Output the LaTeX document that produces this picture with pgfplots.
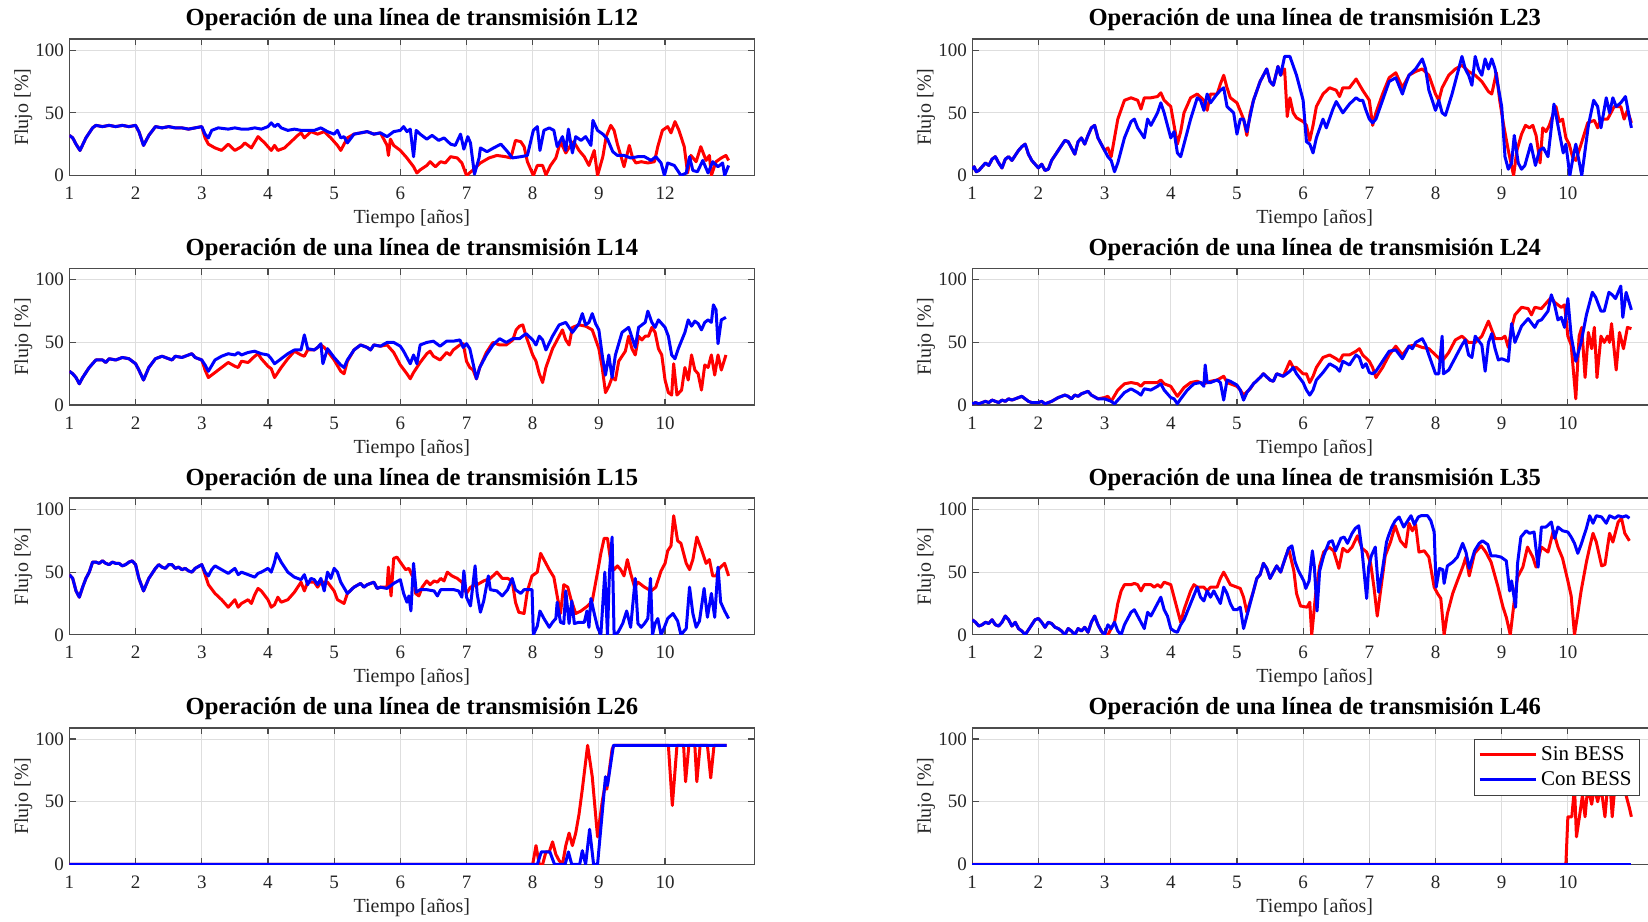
\documentclass[border=0pt]{standalone}
\usepackage{fontspec}
\setmainfont{Liberation Serif}
\usepackage{pgfplots}
\pgfplotsset{compat=1.18}
\definecolor{sinb}{rgb}{1,0,0}
\definecolor{conb}{rgb}{0,0,1}
\pgfplotsset{
  panel/.style={
    scale only axis, width=342.5pt, height=68.3pt,
    anchor=south west,
    xmin=1, xmax=11.35, ymin=0, ymax=109,
    xtick={1,2,3,4,5,6,7,8,9,10}, ytick={0,50,100},
    /pgf/number format/assume math mode=true,
    grid=major, major grid style={black!13, line width=0.45pt},
    tick align=inside, major tick length=3.2pt,
    axis line style={black!70, line width=0.7pt},
    tick style={black!70, line width=0.6pt},
    ticklabel style={font=\fontsize{9.5}{10}\selectfont, text=black!85},
    xticklabel style={anchor=base, yshift=-12pt},
    yticklabel style={anchor=east, inner sep=0pt, xshift=-2.5pt},
    xlabel={Tiempo [años]}, ylabel={Flujo [\%]},
    label style={font=\fontsize{10}{12}\selectfont, text=black!85},
    xlabel style={at={(axis description cs:0.5,-0.351)}, anchor=base},
    ylabel style={at={(axis description cs:-0.0672,0.5)}, anchor=center},
    every axis title shift=0pt,
    title style={at={(axis description cs:0.5,1)}, anchor=base, yshift=6.5pt, font=\fontsize{12.3}{14}\selectfont\bfseries},
    every axis plot/.append style={line width=1.5pt, line join=round},
    clip=true,
  }
}
\begin{document}
\begin{tikzpicture}
% ---------------- L12 ----------------
\begin{axis}[panel, at={(34.7pt,372.75pt)}, title={Operación de una línea de transmisión L12},
  xticklabels={1,2,3,4,5,6,7,8,9,12}]
\addplot[sinb] coordinates {(1,32)(1.05,30)(1.1,25)(1.16,20)(1.25,30)(1.35,38)(1.4,40)(1.5,39)(1.6,40)(1.7,39)(1.8,40)(1.9,39)(2.0,40)(2.05,35)(2.12,24)(2.2,32)(2.3,39)(2.4,38)(2.5,39)(2.6,38)(2.7,38)(2.8,37)(2.9,38)(3.0,39)
(3.05,30)(3.1,25)(3.2,22)(3.3,20)(3.4,25)(3.5,20)(3.6,23)(3.65,26)(3.75,22)(3.85,31)(3.95,26)(4.05,20)(4.1,24)(4.15,20)(4.25,22)(4.35,27)(4.45,32)(4.5,34)(4.55,30)(4.65,35)(4.75,33)(4.85,35)(4.95,30)(5.05,24)(5.1,20)(5.15,25)(5.2,30)(5.3,33)(5.4,34)(5.5,35)(5.6,33)(5.7,34)(5.8,24)(5.82,16)(5.85,29)(5.9,24)(6.0,20)(6.1,14)(6.2,7)(6.25,2)(6.3,4.5)(6.4,8)(6.45,11)(6.53,7)(6.61,11)(6.68,10)(6.76,15)(6.86,14)(6.93,10)(7.0,0)(7.09,4)(7.21,10)(7.34,14)(7.46,16)(7.59,15)(7.67,14)(7.74,28)(7.82,27)(7.87,23)(7.92,11)(8.01,0)(8.07,8)(8.15,8)(8.2,0.5)(8.27,8)(8.35,14)(8.42,27)(8.5,18)(8.57,24)(8.62,27)(8.7,20)(8.78,15)(8.85,8)(8.93,20)(8.98,0)(9.06,15)(9.11,31)(9.18,40)(9.23,36)(9.28,25)(9.33,16)(9.38,7)(9.46,24)(9.51,14)(9.56,10)(9.64,11)(9.74,10)(9.84,11)(9.89,23)(9.96,36)(10.04,39)(10.09,34)(10.15,43)(10.21,36)(10.29,23)(10.34,2)(10.39,16)(10.47,11)(10.54,23)(10.62,12)(10.67,16)(10.7,0)(10.77,11)(10.85,14)(10.92,16)(10.96,12)};
\addplot[conb] coordinates {(1,32)(1.05,30)(1.1,25)(1.16,20)(1.25,30)(1.35,38)(1.4,40)(1.5,39)(1.6,40)(1.7,39)(1.8,40)(1.9,39)(2.0,40)(2.05,35)(2.12,24)(2.2,32)(2.3,39)(2.4,38)(2.5,39)(2.6,38)(2.7,38)(2.8,37)(2.9,38)(3.0,39)
(3.05,33)(3.1,30)(3.15,36)(3.25,38)(3.4,37)(3.5,38)(3.6,37)(3.7,37)(3.8,38)(3.9,37)(4.0,39)(4.05,42)(4.1,39)(4.15,41)(4.2,38)(4.3,36)(4.4,37)(4.5,36)(4.6,36)(4.7,36)(4.8,38)(4.9,35)(5.0,33)(5.05,36)(5.1,30)(5.15,31)(5.2,26)(5.3,33)(5.4,34)(5.5,35)(5.6,33)(5.7,34)(5.8,31)(5.9,35)(6.0,36)(6.05,39)(6.1,35)(6.15,37)(6.2,15)(6.24,36)(6.3,33)(6.4,29)(6.48,32)(6.58,28)(6.66,30)(6.76,25)(6.83,24)(6.91,33)(6.96,21)(7.02,31)(7.06,26)(7.12,1)(7.19,14)(7.21,22)(7.31,19)(7.41,22)(7.52,25)(7.62,19)(7.69,14)(7.82,15)(7.92,16)(8.01,36)(8.07,39)(8.11,20)(8.17,36)(8.25,38)(8.32,36)(8.37,23)(8.45,31)(8.5,20)(8.54,37)(8.6,18)(8.65,31)(8.73,28)(8.8,31)(8.88,24)(8.91,44)(8.98,36)(9.06,33)(9.13,29)(9.21,19)(9.28,16)(9.38,16)(9.48,14)(9.59,15)(9.69,15)(9.79,12)(9.86,15)(9.94,10)(9.99,0)(10.04,10)(10.14,8)(10.24,0)(10.32,2)(10.37,15)(10.42,4)(10.49,3)(10.57,12)(10.65,2)(10.72,11)(10.8,7)(10.87,10)(10.9,0)(10.96,8)};
\end{axis}
% ---------------- L14 ----------------
\begin{axis}[panel, at={(34.7pt,257.95pt)}, title={Operación de una línea de transmisión L14}]
\addplot[sinb] coordinates {(1,27)(1.05,25)(1.1,22)(1.15,17)(1.2,22)(1.3,30)(1.4,36)(1.5,36)(1.55,34)(1.6,37)(1.7,36)(1.8,38)(1.9,37)(2.0,33)(2.05,28)(2.12,20)(2.2,30)(2.3,37)(2.4,39)(2.5,37)(2.55,36)(2.6,39)(2.7,38)(2.8,40)(2.85,41)(2.9,38)(3.0,36)
(3.05,28)(3.1,22)(3.2,26)(3.3,30)(3.4,34)(3.5,31)(3.55,30)(3.6,35)(3.7,34)(3.8,39)(3.85,41)(3.9,37)(4.0,31)(4.05,29)(4.1,22)(4.2,30)(4.3,37)(4.4,43)(4.5,40)(4.55,39)(4.6,44)(4.7,44)(4.8,48)(4.85,46)(4.9,43)(5.0,36)(5.1,27)(5.15,25)(5.2,35)(5.3,44)(5.4,48)(5.5,46)(5.55,44)(5.6,48)(5.7,47)(5.8,48)(5.85,45)(5.9,42)(6.0,32)(6.1,25)(6.15,21)(6.2,26)(6.3,34)(6.4,41)(6.45,43)(6.5,39)(6.6,36)(6.7,42)(6.75,40)(6.8,44)(6.9,48)(6.95,49)(7.0,35)(7.05,30)(7.1,28)(7.15,21)(7.2,30)(7.3,42)(7.4,50)(7.5,48)(7.6,48)(7.7,52)(7.75,60)(7.8,63)(7.85,64)(7.9,55)(8.0,40)(8.05,35)(8.1,25)(8.15,18)(8.2,30)(8.3,45)(8.4,55)(8.45,60)(8.5,52)(8.55,48)(8.6,62)(8.7,64)(8.8,63)(8.9,60)(9.0,45)(9.05,30)(9.1,10)(9.15,15)(9.2,22)(9.25,20)(9.3,35)(9.4,43)(9.45,55)(9.5,45)(9.55,40)(9.6,55)(9.65,52)(9.7,55)(9.75,55)(9.8,62)(9.85,58)(9.9,45)(9.95,40)(10.0,20)(10.05,10)(10.1,8)(10.13,33)(10.18,8)(10.25,12)(10.3,30)(10.35,20)(10.4,40)(10.45,28)(10.5,25)(10.55,12)(10.6,32)(10.65,30)(10.7,40)(10.75,24)(10.8,40)(10.85,28)(10.92,40)};
\addplot[conb] coordinates {(1,27)(1.05,25)(1.1,22)(1.15,17)(1.2,22)(1.3,30)(1.4,36)(1.5,36)(1.55,34)(1.6,37)(1.7,36)(1.8,38)(1.9,37)(2.0,33)(2.05,28)(2.12,20)(2.2,30)(2.3,37)(2.4,39)(2.5,37)(2.55,36)(2.6,39)(2.7,38)(2.8,40)(2.85,41)(2.9,38)(3.0,36)
(3.05,32)(3.1,27)(3.2,36)(3.3,39)(3.4,41)(3.5,40)(3.55,42)(3.6,40)(3.7,42)(3.8,43)(3.9,41)(4.0,40)(4.05,37)(4.1,33)(4.2,37)(4.3,41)(4.4,44)(4.5,44)(4.55,56)(4.6,45)(4.7,44)(4.75,46)(4.8,49)(4.83,33)(4.9,45)(5.0,38)(5.1,32)(5.15,30)(5.2,36)(5.3,44)(5.4,48)(5.5,46)(5.55,44)(5.6,48)(5.7,47)(5.8,50)(5.9,50)(6.0,47)(6.05,43)(6.1,38)(6.15,33)(6.2,40)(6.25,33)(6.3,48)(6.4,50)(6.5,51)(6.6,47)(6.7,51)(6.8,51)(6.9,52)(6.95,46)(7.0,49)(7.05,45)(7.1,33)(7.15,21)(7.2,30)(7.3,40)(7.4,48)(7.5,53)(7.6,50)(7.7,53)(7.8,53)(7.9,57)(8.0,52)(8.05,48)(8.1,55)(8.15,52)(8.2,44)(8.3,55)(8.4,64)(8.5,66)(8.6,58)(8.7,65)(8.75,73)(8.8,64)(8.85,66)(8.9,73)(8.95,65)(9.0,60)(9.05,40)(9.1,24)(9.15,40)(9.2,22)(9.25,40)(9.35,58)(9.45,62)(9.55,46)(9.6,62)(9.7,66)(9.74,75)(9.8,66)(9.85,62)(9.9,68)(10.0,62)(10.05,55)(10.1,40)(10.15,37)(10.2,45)(10.3,58)(10.35,68)(10.4,63)(10.45,67)(10.5,65)(10.55,60)(10.6,66)(10.65,68)(10.7,66)(10.73,80)(10.77,76)(10.8,49)(10.85,68)(10.92,70)};
\end{axis}
% ---------------- L15 ----------------
\begin{axis}[panel, at={(34.7pt,143.1pt)}, title={Operación de una línea de transmisión L15}]
\addplot[sinb] coordinates {(1,48)(1.05,45)(1.1,35)(1.15,30)(1.2,38)(1.25,45)(1.3,50)(1.35,58)(1.4,58)(1.45,57)(1.5,59)(1.55,57)(1.6,56)(1.65,58)(1.7,57)(1.75,57)(1.8,55)(1.85,56)(1.9,58)(1.95,59)(2.0,56)(2.05,45)(2.12,35)(2.2,45)(2.3,53)(2.35,56)(2.4,54)(2.45,53)(2.5,56)(2.55,56)(2.6,53)(2.65,54)(2.7,52)(2.75,53)(2.8,51)(2.85,50)(2.9,53)(3.0,56)
(3.05,48)(3.1,40)(3.2,33)(3.3,28)(3.4,22)(3.5,28)(3.55,22)(3.6,25)(3.7,28)(3.75,25)(3.8,32)(3.85,37)(3.9,35)(4.0,28)(4.05,22)(4.1,24)(4.15,30)(4.2,26)(4.3,28)(4.4,34)(4.5,42)(4.55,35)(4.6,42)(4.7,42)(4.75,38)(4.8,42)(4.9,42)(5.0,35)(5.05,28)(5.15,25)(5.2,33)(5.3,38)(5.4,41)(5.45,38)(5.5,40)(5.6,42)(5.65,37)(5.7,38)(5.8,38)(5.82,54)(5.86,31)(5.9,61)(5.95,62)(6.0,58)(6.08,52)(6.13,53)(6.18,47)(6.2,51)(6.23,33)(6.28,31)(6.33,38)(6.4,43)(6.45,40)(6.51,43)(6.56,42)(6.61,45)(6.66,43)(6.71,50)(6.78,47)(6.86,45)(6.93,42)(7.0,33)(7.06,38)(7.16,40)(7.26,43)(7.36,45)(7.46,50)(7.54,45)(7.62,45)(7.69,43)(7.74,26)(7.79,18)(7.87,17)(7.92,35)(7.99,47)(8.07,50)(8.12,65)(8.2,57)(8.25,52)(8.32,46)(8.37,31)(8.42,17)(8.47,40)(8.53,38)(8.58,28)(8.65,17)(8.73,19)(8.83,23)(8.9,27)(8.98,50)(9.03,65)(9.08,77)(9.13,77)(9.18,58)(9.23,52)(9.28,55)(9.33,52)(9.38,47)(9.43,60)(9.48,49)(9.54,38)(9.59,42)(9.69,38)(9.79,35)(9.86,38)(9.94,51)(10.0,57)(10.04,67)(10.09,71)(10.13,95)(10.19,75)(10.24,73)(10.32,57)(10.37,52)(10.42,60)(10.48,78)(10.55,68)(10.62,57)(10.67,60)(10.72,47)(10.77,47)(10.82,53)(10.9,57)(10.96,47)};
\addplot[conb] coordinates {(1,48)(1.05,45)(1.1,35)(1.15,30)(1.2,38)(1.25,45)(1.3,50)(1.35,58)(1.4,58)(1.45,57)(1.5,59)(1.55,57)(1.6,56)(1.65,58)(1.7,57)(1.75,57)(1.8,55)(1.85,56)(1.9,58)(1.95,59)(2.0,56)(2.05,45)(2.12,35)(2.2,45)(2.3,53)(2.35,56)(2.4,54)(2.45,53)(2.5,56)(2.55,56)(2.6,53)(2.65,54)(2.7,52)(2.75,53)(2.8,51)(2.85,50)(2.9,53)(3.0,56)
(3.05,50)(3.1,47)(3.15,52)(3.2,55)(3.3,52)(3.4,49)(3.5,53)(3.55,48)(3.6,50)(3.7,48)(3.8,46)(3.85,49)(3.9,50)(4.0,53)(4.05,50)(4.1,58)(4.13,65)(4.2,58)(4.3,50)(4.4,46)(4.5,44)(4.55,48)(4.6,40)(4.65,45)(4.7,44)(4.75,40)(4.8,45)(4.85,35)(4.9,50)(4.95,45)(5.0,53)(5.05,50)(5.1,42)(5.2,33)(5.3,38)(5.4,41)(5.45,38)(5.5,40)(5.6,42)(5.65,37)(5.7,38)(5.8,37)(5.9,41)(6.0,44)(6.05,33)(6.1,26)(6.13,31)(6.16,19)(6.2,57)(6.24,34)(6.3,36)(6.4,36)(6.51,35)(6.56,31)(6.61,36)(6.71,36)(6.81,36)(6.88,35)(6.93,30)(6.96,51)(7.0,30)(7.06,23)(7.13,55)(7.16,33)(7.21,18)(7.26,27)(7.33,47)(7.36,36)(7.46,35)(7.54,31)(7.62,36)(7.69,45)(7.74,36)(7.82,33)(7.87,36)(7.99,36)(8.01,0)(8.07,7)(8.11,19)(8.17,13)(8.25,6)(8.3,10)(8.35,13)(8.37,26)(8.42,10)(8.47,9)(8.5,35)(8.55,9)(8.59,27)(8.63,9)(8.7,10)(8.78,10)(8.82,19)(8.85,6)(8.88,29)(8.93,17)(8.98,6)(9.03,0)(9.09,50)(9.13,0)(9.16,50)(9.2,78)(9.23,0)(9.29,2)(9.36,9)(9.42,19)(9.48,6)(9.55,45)(9.59,9)(9.64,6)(9.69,9)(9.74,13)(9.78,45)(9.81,0)(9.85,9)(9.89,13)(9.94,0)(9.99,6)(10.04,13)(10.12,17)(10.19,11)(10.24,0)(10.32,5)(10.37,38)(10.42,17)(10.47,6)(10.52,11)(10.59,37)(10.64,14)(10.7,33)(10.75,14)(10.8,54)(10.84,26)(10.9,19)(10.96,13)};
\end{axis}
% ---------------- L26 ----------------
\begin{axis}[panel, at={(34.7pt,28.3pt)}, title={Operación de una línea de transmisión L26}]
\addplot[sinb] coordinates {(1,0)(8.0,0)(8.05,15)(8.1,0)(8.15,0)(8.2,10)(8.25,10)(8.3,18)(8.35,8)(8.4,3)(8.45,0)(8.5,15)(8.55,25)(8.6,15)(8.65,25)(8.7,40)(8.75,60)(8.83,95)(8.9,70)(8.98,22)(9.05,50)(9.1,65)(9.12,60)(9.2,92)(9.23,95)(10.05,95)(10.11,47)(10.18,95)(10.28,95)(10.31,66)(10.36,95)(10.45,95)(10.48,66)(10.53,95)(10.64,95)(10.69,69)(10.74,95)(10.93,95)};
\addplot[conb] coordinates {(1,0)(8.07,0)(8.13,10)(8.26,10)(8.33,0)(8.49,0)(8.54,10)(8.59,0)(8.71,0)(8.75,11)(8.8,0)(8.86,28)(8.92,0)(8.98,0)(9.1,70)(9.13,63)(9.22,95)(10.93,95)};
\end{axis}
% ---------------- L23 ----------------
\begin{axis}[panel, at={(486.1pt,372.75pt)}, title={Operación de una línea de transmisión L23}]
\addplot[sinb] coordinates {(1,5)(1.03,7)(1.06,3)(1.1,4)(1.15,7)(1.2,10)(1.25,8)(1.3,13)(1.35,15)(1.4,10)(1.45,6)(1.5,13)(1.55,15)(1.6,12)(1.65,16)(1.7,20)(1.75,23)(1.8,25)(1.85,17)(1.9,12)(2.0,6)(2.05,9)(2.1,4)(2.15,5)(2.2,12)(2.3,20)(2.4,28)(2.45,27)(2.5,22)(2.55,17)(2.6,27)(2.65,30)(2.7,25)(2.75,32)(2.8,38)(2.85,40)(2.9,30)(2.95,25)(3.0,20)
(3.05,22)(3.1,15)(3.15,30)(3.2,45)(3.3,60)(3.4,62)(3.5,60)(3.55,53)(3.6,62)(3.7,62)(3.8,63)(3.85,66)(3.9,60)(4.0,55)(4.05,40)(4.1,25)(4.15,35)(4.2,50)(4.3,62)(4.4,65)(4.5,60)(4.55,52)(4.6,65)(4.7,65)(4.75,73)(4.8,80)(4.85,70)(4.9,62)(5.0,58)(5.1,45)(5.15,32)(5.2,50)(5.25,60)(5.35,75)(5.45,85)(5.5,75)(5.55,72)(5.62,87)(5.66,80)(5.72,85)(5.76,47)(5.8,62)(5.85,50)(5.9,46)(6.0,43)(6.05,40)(6.1,28)(6.15,40)(6.2,55)(6.3,65)(6.4,70)(6.5,68)(6.55,63)(6.6,70)(6.7,70)(6.8,77)(6.9,68)(7.0,60)(7.05,40)(7.1,50)(7.2,65)(7.3,78)(7.4,82)(7.5,70)(7.6,80)(7.7,83)(7.8,85)(7.9,80)(8.0,65)(8.05,60)(8.1,70)(8.2,80)(8.3,85)(8.4,88)(8.5,83)(8.6,80)(8.7,75)(8.8,67)(8.85,65)(8.92,82)(8.97,60)(9.03,40)(9.1,20)(9.18,0)(9.23,20)(9.3,33)(9.36,40)(9.42,38)(9.47,40)(9.52,32)(9.58,10)(9.62,38)(9.67,35)(9.72,40)(9.77,48)(9.82,55)(9.87,43)(9.92,45)(9.97,30)(10.02,25)(10.07,15)(10.12,12)(10.2,25)(10.3,42)(10.4,44)(10.45,38)(10.5,45)(10.6,45)(10.7,55)(10.8,55)(10.85,45)(10.9,52)(10.96,42)};
\addplot[conb] coordinates {(1,5)(1.03,7)(1.06,3)(1.1,4)(1.15,7)(1.2,10)(1.25,8)(1.3,13)(1.35,15)(1.4,10)(1.45,6)(1.5,13)(1.55,15)(1.6,12)(1.65,16)(1.7,20)(1.75,23)(1.8,25)(1.85,17)(1.9,12)(2.0,6)(2.05,9)(2.1,4)(2.15,5)(2.2,12)(2.3,20)(2.4,28)(2.45,27)(2.5,22)(2.55,17)(2.6,27)(2.65,30)(2.7,25)(2.75,32)(2.8,38)(2.85,40)(2.9,30)(2.95,25)(3.0,20)
(3.05,15)(3.1,12)(3.15,3)(3.2,10)(3.3,30)(3.4,43)(3.45,45)(3.5,38)(3.6,30)(3.65,45)(3.7,40)(3.8,50)(3.85,58)(3.9,50)(3.95,40)(4.0,30)(4.05,35)(4.1,18)(4.15,15)(4.2,25)(4.3,45)(4.4,62)(4.45,60)(4.5,52)(4.55,65)(4.6,58)(4.7,65)(4.75,68)(4.8,70)(4.85,55)(4.95,50)(5.0,33)(5.05,45)(5.1,45)(5.15,35)(5.25,60)(5.35,75)(5.45,85)(5.5,75)(5.55,72)(5.62,87)(5.66,80)(5.72,95)(5.8,95)(5.9,80)(6.0,60)(6.05,27)(6.1,25)(6.15,18)(6.2,30)(6.3,45)(6.35,38)(6.45,53)(6.5,59)(6.6,50)(6.7,57)(6.8,62)(6.85,60)(6.9,60)(6.95,52)(7.0,45)(7.05,42)(7.1,45)(7.2,60)(7.3,75)(7.4,78)(7.5,65)(7.55,73)(7.6,80)(7.7,85)(7.8,93)(7.85,85)(7.9,68)(8.0,52)(8.05,60)(8.1,50)(8.15,48)(8.25,65)(8.35,85)(8.4,95)(8.45,85)(8.5,80)(8.55,72)(8.6,95)(8.65,85)(8.7,80)(8.75,93)(8.8,85)(8.85,93)(8.9,85)(8.95,70)(9.0,55)(9.05,15)(9.1,5)(9.15,10)(9.19,32)(9.25,10)(9.3,5)(9.35,8)(9.44,25)(9.51,8)(9.57,20)(9.63,22)(9.7,15)(9.79,57)(9.85,40)(9.93,18)(9.97,25)(10.03,0)(10.08,15)(10.12,25)(10.21,0)(10.31,40)(10.39,60)(10.45,55)(10.5,38)(10.58,62)(10.63,50)(10.68,62)(10.73,55)(10.8,58)(10.87,63)(10.96,38)};
\end{axis}
% ---------------- L24 ----------------
\begin{axis}[panel, at={(486.1pt,257.95pt)}, title={Operación de una línea de transmisión L24}]
\addplot[sinb] coordinates {(1,1)(1.05,2)(1.1,1)(1.15,2)(1.2,3)(1.25,2)(1.3,4)(1.35,3)(1.4,2)(1.45,4)(1.5,3)(1.55,5)(1.6,4)(1.65,5)(1.7,6)(1.75,7)(1.8,5)(1.85,3)(1.9,2)(2.0,2)(2.05,3)(2.1,1)(2.2,3)(2.3,6)(2.4,8)(2.45,7)(2.5,5)(2.55,8)(2.6,7)(2.65,9)(2.7,10)(2.75,11)(2.8,8)(2.9,5)(3.0,6)
(3.05,7)(3.1,3)(3.2,12)(3.3,17)(3.4,18)(3.5,17)(3.55,15)(3.6,18)(3.7,18)(3.8,18)(3.85,20)(3.9,17)(4.0,15)(4.1,7)(4.2,14)(4.3,18)(4.4,19)(4.5,17)(4.6,19)(4.7,20)(4.8,23)(4.85,18)(4.9,17)(5.0,15)(5.05,12)(5.1,8)(5.2,13)(5.25,17)(5.35,22)(5.4,25)(5.5,20)(5.55,19)(5.6,25)(5.7,23)(5.8,35)(5.85,30)(5.9,30)(6.0,25)(6.05,25)(6.1,18)(6.15,23)(6.2,30)(6.3,38)(6.4,40)(6.5,37)(6.55,35)(6.6,40)(6.7,40)(6.8,43)(6.85,45)(6.9,40)(7.0,35)(7.05,30)(7.1,22)(7.2,30)(7.3,40)(7.4,47)(7.5,40)(7.6,47)(7.7,48)(7.8,46)(7.9,45)(8.0,40)(8.1,35)(8.2,42)(8.3,52)(8.4,55)(8.5,50)(8.6,50)(8.7,55)(8.8,67)(8.85,60)(8.9,53)(9.0,53)(9.05,55)(9.1,46)(9.15,62)(9.2,72)(9.3,78)(9.4,77)(9.45,72)(9.5,78)(9.6,77)(9.7,83)(9.75,86)(9.8,82)(9.85,80)(9.9,78)(9.95,80)(10.0,55)(10.05,48)(10.12,5)(10.17,55)(10.21,62)(10.26,22)(10.31,58)(10.36,45)(10.4,62)(10.44,22)(10.5,55)(10.55,50)(10.6,55)(10.63,50)(10.66,65)(10.73,28)(10.78,58)(10.84,45)(10.9,62)(10.96,61)};
\addplot[conb] coordinates {(1,1)(1.05,2)(1.1,1)(1.15,2)(1.2,3)(1.25,2)(1.3,4)(1.35,3)(1.4,2)(1.45,4)(1.5,3)(1.55,5)(1.6,4)(1.65,5)(1.7,6)(1.75,7)(1.8,5)(1.85,3)(1.9,2)(2.0,2)(2.05,3)(2.1,1)(2.2,3)(2.3,6)(2.4,8)(2.45,7)(2.5,5)(2.55,8)(2.6,7)(2.65,9)(2.7,10)(2.75,11)(2.8,8)(2.9,5)(3.0,5)
(3.05,4)(3.1,3)(3.15,1)(3.2,4)(3.3,10)(3.4,13)(3.5,10)(3.55,8)(3.6,13)(3.7,12)(3.8,15)(3.85,17)(3.9,12)(4.0,6)(4.05,5)(4.1,1)(4.15,5)(4.25,12)(4.35,17)(4.45,18)(4.5,15)(4.52,32)(4.55,18)(4.6,18)(4.7,20)(4.75,18)(4.8,4)(4.85,20)(4.9,19)(5.0,16)(5.05,12)(5.1,4)(5.15,10)(5.25,17)(5.35,22)(5.4,25)(5.5,20)(5.55,19)(5.6,25)(5.7,23)(5.8,27)(5.85,30)(5.9,25)(6.0,18)(6.05,12)(6.1,8)(6.15,12)(6.2,20)(6.3,26)(6.4,33)(6.5,30)(6.55,27)(6.6,35)(6.7,32)(6.8,40)(6.85,38)(6.9,30)(6.95,33)(7.0,26)(7.05,25)(7.1,27)(7.2,35)(7.3,43)(7.4,44)(7.5,37)(7.6,47)(7.65,45)(7.7,50)(7.8,53)(7.85,48)(7.9,40)(8.0,25)(8.05,25)(8.1,55)(8.12,25)(8.2,28)(8.3,38)(8.4,48)(8.45,52)(8.5,40)(8.55,38)(8.6,55)(8.7,48)(8.75,27)(8.8,50)(8.85,57)(8.9,45)(8.95,36)(9.0,37)(9.1,35)(9.15,65)(9.2,50)(9.3,63)(9.4,69)(9.5,62)(9.55,67)(9.6,68)(9.7,75)(9.75,88)(9.8,80)(9.85,68)(9.9,70)(9.95,62)(10.0,85)(10.05,55)(10.12,35)(10.2,50)(10.28,72)(10.37,90)(10.42,86)(10.5,75)(10.55,75)(10.62,90)(10.67,88)(10.72,85)(10.76,90)(10.8,95)(10.83,70)(10.88,90)(10.96,76)};
\end{axis}
% ---------------- L35 ----------------
\begin{axis}[panel, at={(486.1pt,143.1pt)}, title={Operación de una línea de transmisión L35}]
\addplot[sinb] coordinates {(1,12)(1.05,10)(1.1,7)(1.15,8)(1.2,10)(1.25,9)(1.3,12)(1.35,8)(1.4,7)(1.45,10)(1.5,15)(1.55,12)(1.6,7)(1.65,10)(1.7,5)(1.75,3)(1.8,0)(1.85,4)(1.9,8)(1.95,12)(2.0,13)(2.05,10)(2.1,6)(2.15,10)(2.2,9)(2.25,6)(2.3,5)(2.35,3)(2.4,0)(2.45,5)(2.5,3)(2.55,0)(2.6,5)(2.65,3)(2.7,6)(2.75,2)(2.8,10)(2.85,15)(2.9,8)(2.95,3)(3.0,0)
(3.05,0)(3.1,5)(3.15,10)(3.2,25)(3.25,35)(3.3,40)(3.4,40)(3.45,41)(3.5,40)(3.55,35)(3.6,40)(3.7,40)(3.75,38)(3.8,40)(3.85,38)(3.9,42)(4.0,40)(4.05,30)(4.1,20)(4.15,10)(4.2,20)(4.3,35)(4.35,40)(4.4,38)(4.5,38)(4.55,35)(4.6,38)(4.7,38)(4.75,45)(4.8,50)(4.85,45)(4.9,40)(5.0,38)(5.05,37)(5.1,30)(5.15,18)(5.25,35)(5.3,45)(5.35,48)(5.4,57)(5.45,53)(5.5,45)(5.6,55)(5.66,50)(5.71,58)(5.78,69)(5.86,51)(5.9,33)(5.96,23)(6.06,22)(6.1,26)(6.13,0)(6.19,33)(6.25,55)(6.31,66)(6.39,70)(6.46,67)(6.54,53)(6.6,69)(6.67,66)(6.74,70)(6.82,79)(6.89,69)(6.96,66)(7.02,57)(7.07,38)(7.12,15)(7.17,35)(7.24,63)(7.32,74)(7.39,87)(7.47,75)(7.55,70)(7.6,89)(7.65,83)(7.7,88)(7.75,66)(7.83,67)(7.9,62)(7.98,38)(8.03,33)(8.08,29)(8.13,0)(8.18,17)(8.26,33)(8.33,43)(8.41,54)(8.46,62)(8.51,47)(8.59,65)(8.69,71)(8.76,66)(8.84,58)(8.94,39)(9.02,22)(9.07,14)(9.13,0)(9.19,27)(9.24,46)(9.32,54)(9.39,70)(9.47,62)(9.52,54)(9.6,70)(9.7,66)(9.78,83)(9.85,70)(9.92,61)(10.0,43)(10.05,31)(10.1,0)(10.15,17)(10.2,35)(10.28,58)(10.33,70)(10.38,81)(10.43,74)(10.51,55)(10.56,56)(10.63,81)(10.68,74)(10.76,90)(10.81,93)(10.86,81)(10.93,75)};
\addplot[conb] coordinates {(1,12)(1.05,10)(1.1,7)(1.15,8)(1.2,10)(1.25,9)(1.3,12)(1.35,8)(1.4,7)(1.45,10)(1.5,15)(1.55,12)(1.6,7)(1.65,10)(1.7,5)(1.75,3)(1.8,0)(1.85,4)(1.9,8)(1.95,12)(2.0,13)(2.05,10)(2.1,6)(2.15,10)(2.2,9)(2.25,6)(2.3,5)(2.35,3)(2.4,0)(2.45,5)(2.5,3)(2.55,0)(2.6,5)(2.65,3)(2.7,6)(2.75,2)(2.8,10)(2.85,15)(2.9,8)(2.95,3)(3.0,0)
(3.05,8)(3.1,5)(3.15,10)(3.2,3)(3.25,0)(3.3,8)(3.4,18)(3.45,20)(3.5,15)(3.55,10)(3.6,5)(3.65,18)(3.7,15)(3.8,25)(3.85,30)(3.9,20)(3.95,15)(4.0,5)(4.05,3)(4.1,2)(4.15,8)(4.2,12)(4.3,25)(4.4,38)(4.45,30)(4.5,27)(4.55,35)(4.6,30)(4.65,35)(4.7,30)(4.75,25)(4.8,38)(4.85,33)(4.9,25)(4.95,20)(5.0,20)(5.05,22)(5.1,5)(5.15,15)(5.25,35)(5.3,45)(5.35,48)(5.4,57)(5.45,53)(5.5,45)(5.6,55)(5.66,50)(5.71,58)(5.78,69)(5.83,71)(5.88,58)(5.93,51)(6.01,43)(6.04,37)(6.09,43)(6.14,67)(6.17,54)(6.21,19)(6.25,51)(6.31,63)(6.39,74)(6.44,75)(6.49,67)(6.57,77)(6.62,78)(6.67,73)(6.74,81)(6.79,85)(6.84,87)(6.89,67)(6.96,29)(6.99,54)(7.03,63)(7.09,70)(7.14,34)(7.19,49)(7.26,74)(7.29,79)(7.34,86)(7.39,91)(7.45,94)(7.52,86)(7.58,91)(7.63,95)(7.68,88)(7.74,94)(7.78,95)(7.88,95)(7.93,91)(7.98,82)(8.01,38)(8.06,53)(8.11,52)(8.13,41)(8.18,55)(8.26,58)(8.33,62)(8.41,73)(8.46,66)(8.51,53)(8.59,67)(8.66,73)(8.71,75)(8.79,72)(8.84,63)(8.91,63)(8.99,62)(9.07,59)(9.12,35)(9.15,43)(9.21,22)(9.24,57)(9.29,78)(9.37,83)(9.42,81)(9.49,82)(9.55,54)(9.6,86)(9.67,86)(9.75,90)(9.8,77)(9.85,86)(9.92,83)(10.0,82)(10.05,78)(10.1,73)(10.15,65)(10.2,72)(10.28,85)(10.33,95)(10.38,89)(10.43,95)(10.51,94)(10.58,89)(10.63,95)(10.71,93)(10.76,95)(10.83,94)(10.88,95)(10.93,93)};
\end{axis}
% ---------------- L46 ----------------
\begin{axis}[panel, at={(486.1pt,28.3pt)}, title={Operación de una línea de transmisión L46},
  legend style={at={(axis description cs:1,1)}, anchor=north east, xshift=-8.5pt, yshift=-5.5pt,
    draw=black!75, line width=0.6pt, fill=white, font=\fontsize{10.5}{12}\selectfont,
    inner xsep=2pt, inner ysep=1.5pt, row sep=0pt,
    /tikz/every even column/.append style={column sep=1pt}},
  legend cell align=left,
  legend image code/.code={\draw[#1, line width=1.5pt] (0pt,0pt) -- (28pt,0pt);}]
\addplot[sinb] coordinates {(1,0)(9.97,0)(10.0,38)(10.06,38)(10.1,62)(10.13,22)(10.18,40)(10.22,55)(10.26,38)(10.3,62)(10.36,48)(10.4,62)(10.45,50)(10.5,62)(10.56,38)(10.6,62)(10.64,62)(10.67,38)(10.71,62)(10.8,62)(10.88,55)(10.93,45)(10.96,38)};
\addlegendentry{Sin BESS}
\addplot[conb] coordinates {(1,0)(10.96,0)};
\addlegendentry{Con BESS}
\end{axis}
\pgfresetboundingbox
\path[use as bounding box] (0pt,0pt) rectangle (824pt,460.5pt);
\end{tikzpicture}
\end{document}
